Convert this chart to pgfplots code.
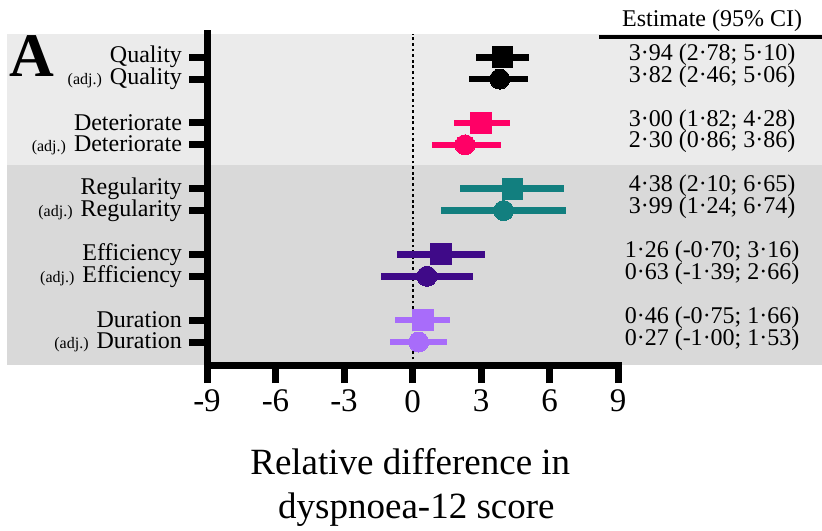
\documentclass[border=0pt]{standalone}
\usepackage{pgfplots}
\pgfplotsset{compat=1.18}
\usepackage{fontspec}
\setmainfont{Liberation Serif}
\definecolor{bandA}{HTML}{EBEBEB}
\definecolor{bandB}{HTML}{D9D9D9}
\definecolor{cpink}{HTML}{FF0066}
\definecolor{cteal}{HTML}{127F7F}
\definecolor{cdpur}{HTML}{3F0A88}
\definecolor{clpur}{HTML}{A86CFA}
\pgfplotsset{
  ci/.style n args={3}{only marks, color=#1, mark=#2, mark size=#3,
    mark options={solid, draw=#1, fill=#1, line width=0pt},
    error bars/.cd, x dir=both, x explicit, error mark=none,
    error bar style={line width=3.3pt, color=#1, solid}},
}
\newcommand{\adj}{{\fontsize{8}{9}\selectfont (adj.)}}
\begin{document}
\begin{tikzpicture}
\begin{axis}[
  set layers,
  scale only axis,
  width=205.5pt, height=165.5pt,
  xmin=-9, xmax=9, ymin=-1.05, ymax=14.06,
  clip=false,
  axis x line*=bottom, axis y line*=left,
  axis line style={line width=3.5pt, line cap=rect},
  tick align=outside,
  major tick length=9pt,
  major tick style={line width=3.5pt, black},
  xtick={-9,-6,-3,0,3,6,9},
  xticklabels={-9,-6,-3,0,3,6,9},
  xticklabel style={font=\fontsize{16.5}{18}\selectfont},
  ytick={13,12,10,9,7,6,4,3,1,0},
  yticklabels={Quality, \adj{} Quality, Deteriorate, \adj{} Deteriorate,
    Regularity, \adj{} Regularity, Efficiency, \adj{} Efficiency,
    Duration, \adj{} Duration},
  yticklabel style={font=\fontsize{12}{12}\selectfont, inner ysep=0pt},
]
\begin{pgfonlayer}{axis background}
\fill[bandA] (axis cs:-17.76,8.08) rectangle (axis cs:18.2,14.06);
\fill[bandB] (axis cs:-17.76,-1.05) rectangle (axis cs:18.2,8.08);
\end{pgfonlayer}
\draw[black, dash pattern=on 1.4pt off 1.4pt, line width=1pt] (axis cs:0,-1.05) -- (axis cs:0,14.06);

% Quality
\addplot[ci={black}{square*}{5.2pt}] coordinates {(3.94,13) += (1.16,0) -= (1.16,0)};
\addplot[ci={black}{*}{5pt}] coordinates {(3.82,12) += (1.24,0) -= (1.36,0)};
% Deteriorate
\addplot[ci={cpink}{square*}{5.2pt}] coordinates {(3.00,10) += (1.28,0) -= (1.18,0)};
\addplot[ci={cpink}{*}{5pt}] coordinates {(2.30,9) += (1.56,0) -= (1.44,0)};
% Regularity
\addplot[ci={cteal}{square*}{5.2pt}] coordinates {(4.38,7) += (2.27,0) -= (2.28,0)};
\addplot[ci={cteal}{*}{5pt}] coordinates {(3.99,6) += (2.75,0) -= (2.75,0)};
% Efficiency
\addplot[ci={cdpur}{square*}{5.2pt}] coordinates {(1.26,4) += (1.90,0) -= (1.96,0)};
\addplot[ci={cdpur}{*}{5pt}] coordinates {(0.63,3) += (2.03,0) -= (2.02,0)};
% Duration
\addplot[ci={clpur}{square*}{5.2pt}] coordinates {(0.46,1) += (1.20,0) -= (1.21,0)};
\addplot[ci={clpur}{*}{5pt}] coordinates {(0.27,0) += (1.26,0) -= (1.27,0)};

% right column
\begin{scope}[every node/.style={anchor=base, font=\fontsize{12}{14}\selectfont, inner sep=0pt}]
\node at (axis cs:13.12,14.38) {Estimate (95\% CI)};
\node at (axis cs:13.12,12.86) {3·94 (2·78; 5·10)};
\node at (axis cs:13.12,11.86) {3·82 (2·46; 5·06)};
\node at (axis cs:13.12,9.86) {3·00 (1·82; 4·28)};
\node at (axis cs:13.12,8.86) {2·30 (0·86; 3·86)};
\node at (axis cs:13.12,6.86) {4·38 (2·10; 6·65)};
\node at (axis cs:13.12,5.86) {3·99 (1·24; 6·74)};
\node at (axis cs:13.12,3.86) {1·26 (-0·70; 3·16)};
\node at (axis cs:13.12,2.86) {0·63 (-1·39; 2·66)};
\node at (axis cs:13.12,0.86) {0·46 (-0·75; 1·66)};
\node at (axis cs:13.12,-0.14) {0·27 (-1·00; 1·53)};
\end{scope}
\draw[line width=2pt] (axis cs:8.17,13.93) -- (axis cs:18.2,13.93);
\node[anchor=base, inner sep=0pt, font=\fontsize{31}{32}\selectfont\bfseries] at (axis cs:-16.67,12.10) {A};
\node[anchor=base west, inner sep=0pt, font=\fontsize{18.5}{20}\selectfont] at (axis cs:-7.12,-6.03) {Relative difference in};
\node[anchor=base west, inner sep=0pt, font=\fontsize{18.5}{20}\selectfont] at (axis cs:-5.9,-8.05) {dyspnoea-12 score};
\end{axis}
\pgfresetboundingbox
\path[use as bounding box] (-103.5pt,-82.5pt) rectangle (307.5pt,182.5pt);
\end{tikzpicture}
\end{document}
